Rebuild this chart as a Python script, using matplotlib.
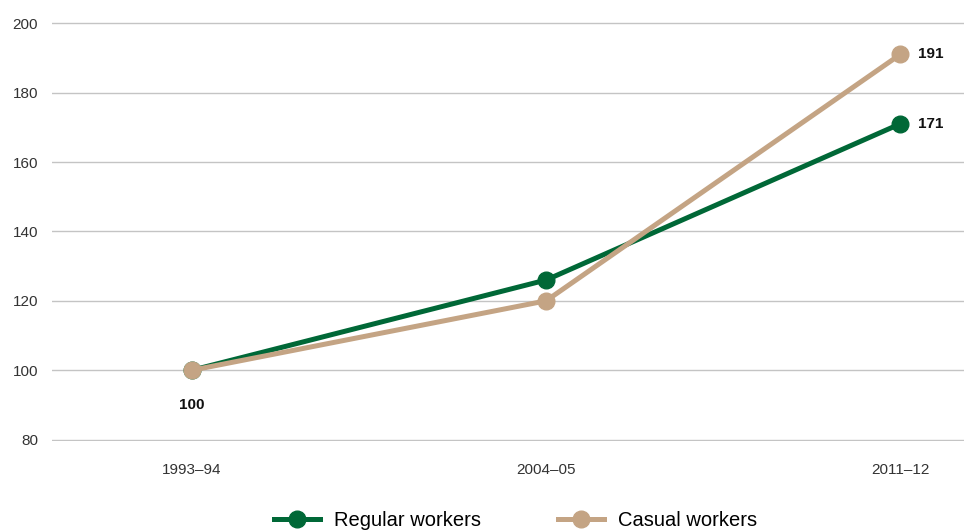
import matplotlib.pyplot as plt

# index values, 1993-94 = 100
years = ["1993–94", "2004–05", "2011–12"]
regular = [100, 126, 171]
casual = [100, 120, 191]

green = "#006837"
tan = "#c4a484"

plt.rcParams['font.family'] = ['Liberation Sans', 'DejaVu Sans']

fig = plt.figure(figsize=(9.64, 5.32), dpi=100)
ax = fig.add_axes([0.054, 0.171, 0.946, 0.788])

x = range(len(years))
ax.plot(x, regular, color=green, lw=3.6, marker="o", ms=12, label="Regular workers", zorder=3)
ax.plot(x, casual, color=tan, lw=3.6, marker="o", ms=12, label="Casual workers", zorder=4)

# value labels at start and end
ax.annotate(str(regular[0]), (0, regular[0]), xytext=(0, -25), textcoords="offset points",
            ha="center", va="center", fontsize=11, fontweight="bold", color="#111111")
ax.annotate(str(regular[-1]), (2, regular[-1]), xytext=(22, 0), textcoords="offset points",
            ha="center", va="center", fontsize=11, fontweight="bold", color="#111111")
ax.annotate(str(casual[-1]), (2, casual[-1]), xytext=(22, 0), textcoords="offset points",
            ha="center", va="center", fontsize=11, fontweight="bold", color="#111111")

ax.set_ylim(79.6, 200.4)
ax.set_xlim(-0.395, 2.18)
ax.set_yticks(range(80, 201, 20))
ax.set_xticks(list(x))
ax.set_xticklabels(years)
ax.grid(axis="y", color="#c4c4c4", lw=1)
ax.set_axisbelow(True)
for s in ax.spines.values():
    s.set_visible(False)
ax.tick_params(length=0, labelsize=11, colors="#333333")
ax.tick_params(axis="y", pad=10)
ax.tick_params(axis="x", pad=16)

fig.legend(loc="lower center", bbox_to_anchor=(0.535, -0.03), ncol=2, frameon=False,
           fontsize=14.5, handlelength=2.3, columnspacing=3.8, handletextpad=0.7)

fig.savefig("out.png", dpi=100)
